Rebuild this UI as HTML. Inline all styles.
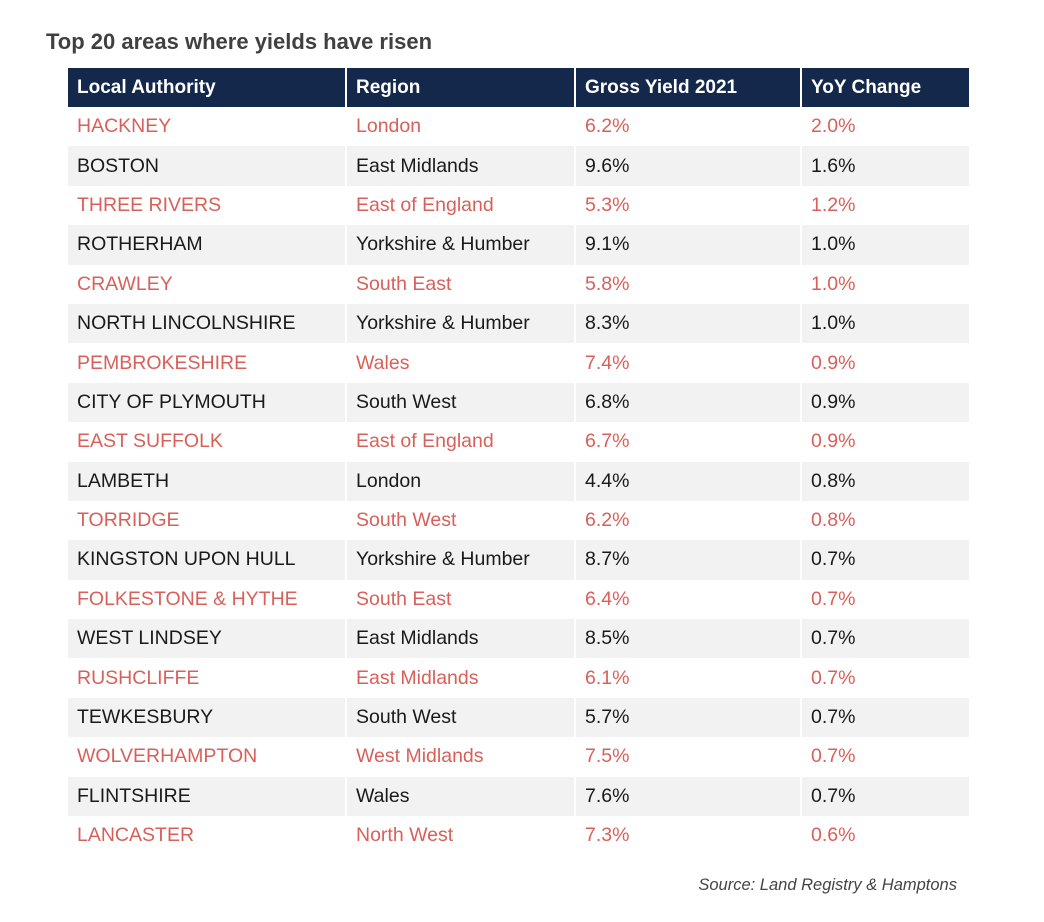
<!DOCTYPE html>
<html><head><meta charset="utf-8"><style>
body{margin:0;width:1044px;height:922px;background:#fff;font-family:"Liberation Sans",sans-serif;position:relative;overflow:hidden}
h1{position:absolute;left:46px;top:29px;margin:0;font-size:22px;font-weight:bold;color:#404040}
table{position:absolute;left:68px;top:68px;border-collapse:collapse;table-layout:fixed}
th,td{height:39.4px;padding:0 0 0 9px;text-align:left;box-sizing:border-box;border-right:2px solid #fff;font-size:19.5px;white-space:nowrap}
th{background:#13284b;color:#fff;font-weight:bold;font-size:19px;height:39px}
tr:nth-child(even) td{background:#f2f2f2}
tr.r td{color:#d9605a}
td{color:#1a1a1a}
.src{position:absolute;right:87px;top:876px;font-style:italic;font-size:16.5px;color:#444}
</style></head><body>
<h1>Top 20 areas where yields have risen</h1>
<table>
<colgroup><col style="width:278px"><col style="width:229px"><col style="width:226px"><col style="width:169px"></colgroup>
<thead><tr><th>Local Authority</th><th>Region</th><th>Gross Yield 2021</th><th>YoY Change</th></tr></thead>
<tbody id="tb"></tbody></table>
<div class="src">Source: Land Registry &amp; Hamptons</div>
<script>
const authorities=["HACKNEY","BOSTON","THREE RIVERS","ROTHERHAM","CRAWLEY","NORTH LINCOLNSHIRE","PEMBROKESHIRE","CITY OF PLYMOUTH","EAST SUFFOLK","LAMBETH","TORRIDGE","KINGSTON UPON HULL","FOLKESTONE & HYTHE","WEST LINDSEY","RUSHCLIFFE","TEWKESBURY","WOLVERHAMPTON","FLINTSHIRE","LANCASTER"];
const regions=["London","East Midlands","East of England","Yorkshire & Humber","South East","Yorkshire & Humber","Wales","South West","East of England","London","South West","Yorkshire & Humber","South East","East Midlands","East Midlands","South West","West Midlands","Wales","North West"];
const grossYield=[6.2,9.6,5.3,9.1,5.8,8.3,7.4,6.8,6.7,4.4,6.2,8.7,6.4,8.5,6.1,5.7,7.5,7.6,7.3];
const yoyChange=[2.0,1.6,1.2,1.0,1.0,1.0,0.9,0.9,0.9,0.8,0.8,0.7,0.7,0.7,0.7,0.7,0.7,0.7,0.6];
const tb=document.getElementById('tb');
authorities.forEach((a,i)=>{
  const tr=document.createElement('tr');
  
  
  if(i%2===0)tr.className='r';
  [a,regions[i],grossYield[i].toFixed(1)+'%',yoyChange[i].toFixed(1)+'%'].forEach((v,j)=>{
    const td=document.createElement('td');
    
    
    td.textContent=v;tr.appendChild(td);
  });
  tb.appendChild(tr);
});
</script>
</body></html>
